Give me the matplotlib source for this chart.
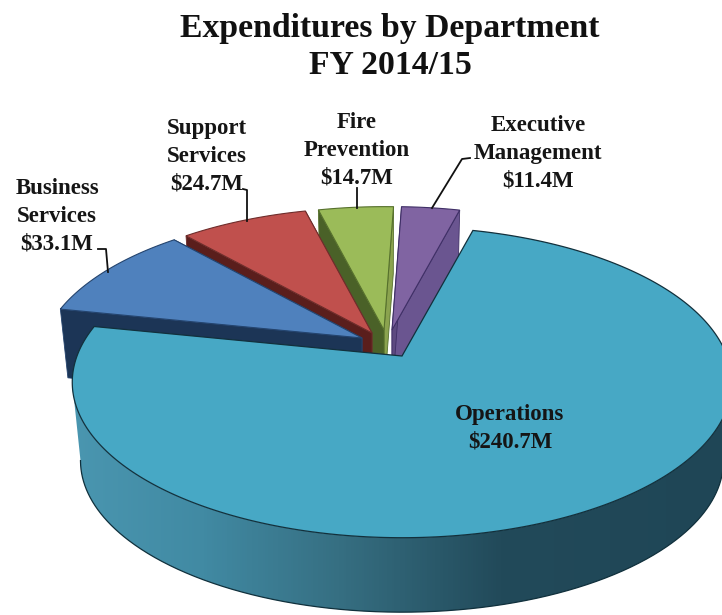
import numpy as np
import matplotlib
matplotlib.use('Agg')
import matplotlib.pyplot as plt
from matplotlib.colors import LinearSegmentedColormap
from matplotlib.patches import Polygon

departments = ['Operations', 'Business\nServices', 'Support\nServices',
               'Fire\nPrevention', 'Executive\nManagement']
amounts = [240.7, 33.1, 24.7, 14.7, 11.4]

top_colors = ['#47a8c5', '#4f81bd', '#c0504d', '#9bbb59', '#8064a2']
left_wall_colors = ['#2b5a6c', '#1c3556', '#5a1e1c', '#4a6128', '#5d4a80']
right_wall_colors = ['#2b5a6c', '#1c3556', '#5a1e1c', '#8ba34f', '#6a5590']
edge_colors = ['#12303c', '#24446e', '#6e2d2b', '#56702c', '#3f2f66']

# where each exploded slice has its point, and how far it recedes
apex_x = [402, 362, 372, 384, 392]
apex_y = [356, 338, 333, 330, 330]
slice_scale = [1.0, 0.98, 0.97, 0.955, 0.955]
slice_depth = [79, 68, 66, 64, 64]

label_x = [510, 57, 207, 357, 538]
label_y = [428, 216, 156, 150, 153]

first_angle = 14.7
semi_x, semi_y, persp = 325.0, 151.0, -0.169


def project(theta, scale=1.0):
    # pie plane seen in perspective, so the near half looks bigger
    u = np.sin(np.radians(theta))
    v = -np.cos(np.radians(theta))
    w = 1 + persp * v
    return scale * semi_x * u / w, scale * semi_y * v / w


def wedge_outline(ax_, ay_, a0, a1, scale):
    th = np.linspace(a0, a1, 300)
    dx, dy = project(th, scale)
    return np.r_[ax_, ax_ + dx, ax_], np.r_[ay_, ay_ + dy, ay_]


def radial_wall(ax_, ay_, angle, scale, depth):
    dx, dy = project(angle, scale)
    shrink = 0.975
    dx2, dy2 = project(angle, scale * shrink)
    return [(ax_, ay_), (ax_ + dx, ay_ + dy),
            (ax_ + dx2, ay_ + dy2 + depth), (ax_, ay_ + depth)]


fig = plt.figure(figsize=(7.22, 6.15), dpi=100)
ax = fig.add_axes([0, 0, 1, 1])
ax.axis('off')

total = sum(amounts)
edges = first_angle + 360 * np.r_[0, np.cumsum(amounts)] / total

# back slices first, the big one goes over all of them
for i in [3, 4, 2, 1]:
    a0, a1 = edges[i], edges[i + 1]
    sc, dp = slice_scale[i], slice_depth[i]
    ax.fill(*zip(*radial_wall(apex_x[i], apex_y[i], a1, sc, dp)),
            fc=right_wall_colors[i], ec=edge_colors[i], lw=0.6)
    ax.fill(*zip(*radial_wall(apex_x[i], apex_y[i], a0, sc, dp)),
            fc=left_wall_colors[i], ec=edge_colors[i], lw=0.6)
    xs, ys = wedge_outline(apex_x[i], apex_y[i], a0, a1, sc)
    ax.fill(xs, ys, fc=top_colors[i], ec=edge_colors[i], lw=0.8)

# Operations: outer wall with a left to right shade, then the top
wall_cmap = LinearSegmentedColormap.from_list(
    'wall', [(0, '#4a96b0'), (0.2, '#418aa3'), (0.41, '#366f82'),
             (0.66, '#224a5a'), (1, '#1f4656')])
th = np.linspace(edges[0], edges[1], 900)
tx, ty = project(th)
right_end, left_end = np.argmax(tx), np.argmin(tx)
th = th[right_end:left_end + 1]
dp = slice_depth[0]
tx, ty = project(th)
bx, by = project(th, 0.975)
tx, ty = apex_x[0] + tx, apex_y[0] + ty
bx, by = apex_x[0] + bx, apex_y[0] + by + dp

wall = Polygon(np.c_[np.r_[tx, bx[::-1]], np.r_[ty, by[::-1]]], closed=True,
               fc='none', ec='none', zorder=1, transform=ax.transData)
ax.add_patch(wall)
shade = ax.imshow(np.linspace(0, 1, 650)[None, :], cmap=wall_cmap, vmin=0, vmax=1,
                  extent=(72, 722, 615, 0), aspect='auto', zorder=1)
shade.set_clip_path(wall)
ax.plot(bx, by, color='#10303c', lw=0.9, zorder=1)

xs, ys = wedge_outline(apex_x[0], apex_y[0], edges[0], edges[1], 1.0)
ax.fill(xs, ys, fc=top_colors[0], ec=edge_colors[0], lw=0.9, zorder=1.5)

ax.set_xlim(0, 722)
ax.set_ylim(615, 0)

# leader lines from the outside labels
ax.plot([98, 106, 108], [249, 249, 272], color='#111111', lw=1.3)
ax.plot([243, 247, 247], [189, 190, 221], color='#111111', lw=1.3)
ax.plot([357, 357], [188, 208], color='#111111', lw=1.3)
ax.plot([470, 462, 432], [158, 159, 208], color='#111111', lw=1.3)

font = ['Liberation Serif', 'DejaVu Serif']
ax.text(390, 28, 'Expenditures by Department', family=font, weight='bold',
        fontsize=24.3, ha='center', va='center', color='#111111')
ax.text(390, 65, 'FY 2014/15', family=font, weight='bold',
        fontsize=24.3, ha='center', va='center', color='#111111')

for name, amount, lx, ly in zip(departments, amounts, label_x, label_y):
    ax.text(lx, ly, f'{name}\n${amount}M', family=font, weight='bold', fontsize=16.5,
            ha='center', va='center', color='#151515', linespacing=1.42, parse_math=False)

fig.savefig('out.png', dpi=100)
